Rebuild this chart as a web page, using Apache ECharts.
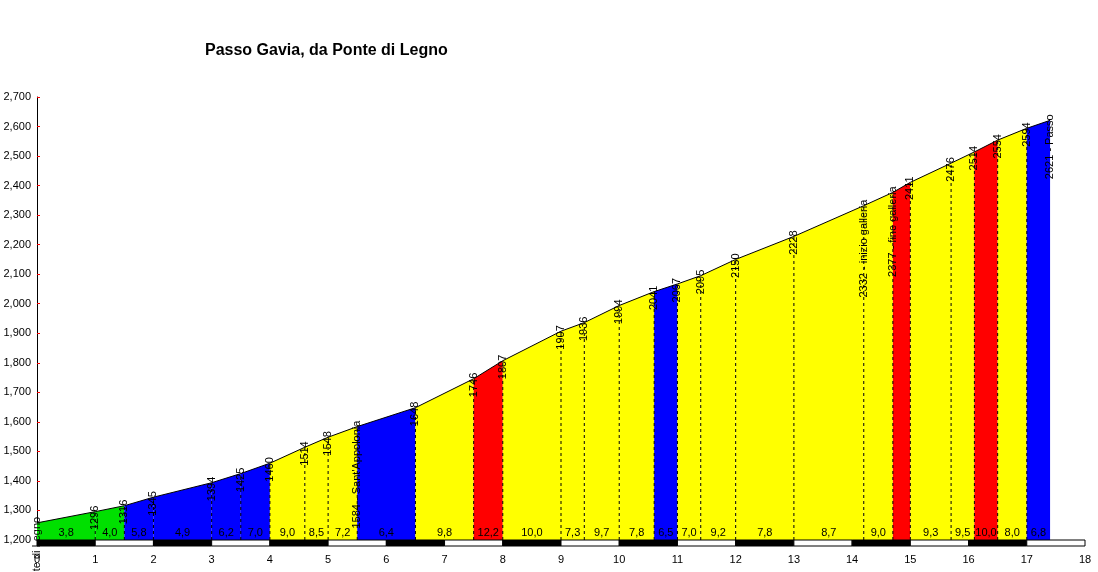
<!DOCTYPE html>
<html><head><meta charset="utf-8">
<script src="https://cdn.jsdelivr.net/npm/echarts@6/dist/echarts.min.js"></script>
<style>html,body{margin:0;background:#fff}#c{width:1098px;height:572px}</style>
</head><body><div id="c"></div>
<script>
const km = [0,1,1.5,2,3,3.5,4,4.6,5,5.5,6.5,7.5,8,9,9.4,10,10.6,11,11.4,12,13,14.2,14.7,15,15.7,16.1,16.5,17,17.4];
const alt = [1258,1296,1316,1345,1394,1425,1460,1514,1548,1584,1648,1746,1807,1907,1936,1994,2041,2067,2095,2150,2228,2332,2377,2411,2476,2514,2554,2594,2621];
const pointNames = {0:'Ponte di Legno',9:"Sant'Appolonia",21:'inizio galleria',22:'fine galleria',28:'Passo'};
const grades = ['3,8','4,0','5,8','4,9','6,2','7,0','9,0','8,5','7,2','6,4','9,8','12,2','10,0','7,3','9,7','7,8','6,5','7,0','9,2','7,8','8,7','9,0','','9,3','9,5','10,0','8,0','6,8'];
const segColors = ['g','g','b','b','b','b','y','y','y','b','y','r','y','y','y','y','b','y','y','y','y','y','r','y','y','r','y','b'];
const palette = {g:'#00e000',b:'#0000ff',y:'#ffff00',r:'#ff0000'};
const kmTicks = [0,1,2,3,4,5,6,7,8,9,10,11,12,13,14,15,16,17,18];

const segData = grades.map((g,i)=>[km[i],km[i+1],alt[i],alt[i+1],i]);
const chart = echarts.init(document.getElementById('c'));
chart.setOption({
  animation:false,
  title:{text:'Passo Gavia, da Ponte di Legno',left:200,top:38,textStyle:{fontFamily:'Liberation Sans',fontSize:16,fontWeight:'bold',color:'#000'}},
  grid:{left:37,right:13,top:97,bottom:32},
  xAxis:{type:'value',min:0,max:18,interval:1,axisLine:{show:false},axisTick:{show:false},splitLine:{show:false},
    axisLabel:{margin:14,fontFamily:'Liberation Sans',fontSize:11,color:'#000'}},
  yAxis:{type:'value',min:1200,max:2700,interval:100,axisLine:{show:true,lineStyle:{color:'#000'}},
    axisTick:{show:true,length:3,inside:true,lineStyle:{color:'#ff0000'}},splitLine:{show:false},
    axisLabel:{margin:6,fontFamily:'Liberation Sans',fontSize:11,color:'#000'}},
  series:[
    {type:'custom',data:segData,renderItem:(p,api)=>{
      const i=api.value(4);
      const a=api.coord([api.value(0),1200]),b=api.coord([api.value(0),api.value(2)]);
      const c=api.coord([api.value(1),api.value(3)]),d=api.coord([api.value(1),1200]);
      const ch=[{type:'polygon',shape:{points:[a,b,c,d]},style:{fill:palette[segColors[i]],stroke:null}},
        {type:'line',shape:{x1:b[0],y1:b[1],x2:c[0],y2:c[1]},style:{stroke:'#000',lineWidth:1}},
        {type:'text',style:{text:grades[i],x:(a[0]+d[0])/2,y:a[1]-2,align:'center',verticalAlign:'bottom',fontFamily:'Liberation Sans',fontSize:11,fill:'#000'}}];
      if(i>0) ch.push({type:'line',shape:{x1:a[0],y1:a[1],x2:b[0],y2:b[1]},style:{stroke:'#000',lineWidth:1,lineDash:[3,3]}});
      const lbl = alt[i]+(pointNames[i]?' - '+pointNames[i]:'');
      ch.push({type:'text',x:b[0],y:b[1]-6,rotation:Math.PI/2,style:{text:lbl,align:'right',verticalAlign:'middle',fontFamily:'Liberation Sans',fontSize:11,fill:'#000'}});
      if(i===grades.length-1){
        const l2=alt[i+1]+' - '+pointNames[i+1];
        ch.push({type:'text',x:c[0],y:c[1]-6,rotation:Math.PI/2,style:{text:l2,align:'right',verticalAlign:'middle',fontFamily:'Liberation Sans',fontSize:11,fill:'#000'}});
      }
      return {type:'group',children:ch};
    }},
    {type:'custom',data:kmTicks.slice(0,-1).map((k,i)=>[k,kmTicks[i+1],i]),renderItem:(p,api)=>{
      const a=api.coord([api.value(0),1200]),b=api.coord([api.value(1),1200]);
      return {type:'rect',shape:{x:a[0],y:a[1],width:b[0]-a[0],height:6},style:{fill:api.value(2)%2?'#fff':'#000',stroke:'#000',lineWidth:1}};
    }}
  ]
});
</script></body></html>
